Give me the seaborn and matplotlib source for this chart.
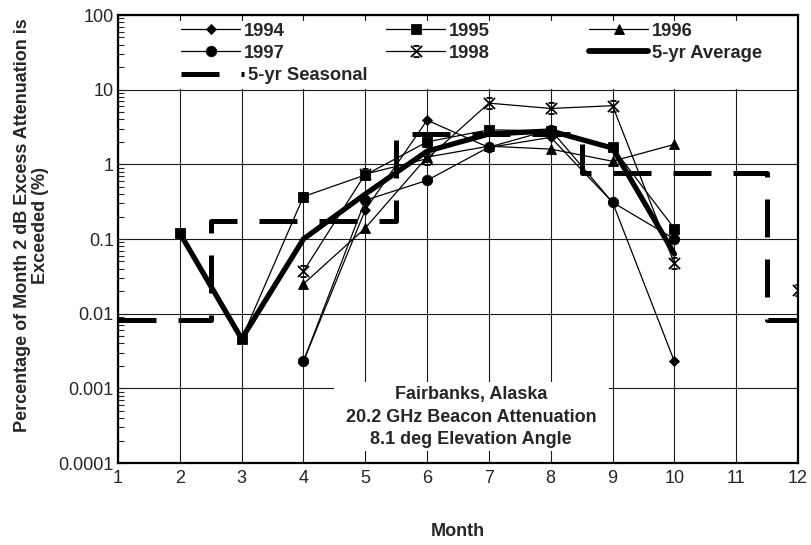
import numpy as np
import pandas as pd
import matplotlib
matplotlib.use("Agg")
import matplotlib.pyplot as plt
import seaborn as sns
from matplotlib.path import Path
from matplotlib.patches import Rectangle
from matplotlib.lines import Line2D
from matplotlib.legend import Legend
from matplotlib.ticker import LogLocator, FixedLocator, FixedFormatter, NullFormatter

# ---------------- data ----------------
months = list(range(1, 13))
nan = np.nan
v1994 = [nan, nan, nan, 0.0023, 0.245, 3.9, 1.68, 2.3, 0.31, 0.0023, nan, nan]
v1995 = [nan, 0.12, 0.0046, 0.37, 0.72, 2.0, 2.9, 2.8, 1.69, 0.138, nan, nan]
v1996 = [nan, nan, nan, 0.025, 0.14, 1.25, 1.75, 1.6, 1.1, 1.85, nan, nan]
v1997 = [nan, nan, nan, 0.0023, 0.33, 0.61, 1.7, 2.9, 0.31, 0.1, nan, nan]
v1998 = [nan, nan, nan, 0.037, 0.74, 1.19, 6.6, 5.6, 6.1, 0.047, nan, 0.021]
avg5 = [nan, 0.12, 0.0046, 0.1, 0.40, 1.5, 2.55, 2.8, 1.65, 0.063, nan, nan]
seasonal = [0.0083, 0.0083, 0.175, 0.175, 0.175, 2.55, 2.55, 2.55, 0.76, 0.76, 0.76, 0.0083]

series_labels = ["1994", "1995", "1996", "1997", "1998"]
avg_label = "5-yr Average"
seasonal_label = "5-yr Seasonal"
ytick_vals = [0.0001, 0.001, 0.01, 0.1, 1, 10, 100]
ytick_labels = ["0.0001", "0.001", "0.01", "0.1", "1", "10", "100"]
xtick_labels = [str(m) for m in months]
xlabel = "Month"
ylabel = "Percentage of Month 2 dB Excess Attenuation is\nExceeded (%)"
note_lines = ["Fairbanks, Alaska", "20.2 GHz Beacon Attenuation", "8.1 deg Elevation Angle"]

# ---------------- style ----------------
sns.set_style("white")
plt.rcParams["font.family"] = ["Liberation Sans", "DejaVu Sans"]

W, H = 811, 545
fig = plt.figure(figsize=(W / 100, H / 100), dpi=100)
L, R, T, B = 118, 798, 15, 463
ax = fig.add_axes([L / W, 1 - B / H, (R - L) / W, (B - T) / H])
ax.set_yscale("log")
ax.set_xlim(1, 12)
ax.set_ylim(1e-4, 100)

# custom marker for 1998 (x with caps)
xcap = Path([(-1, -1), (1, 1), (-1, 1), (1, -1), (-0.55, 1), (0.55, 1), (-0.55, -1), (0.55, -1)],
            [Path.MOVETO, Path.LINETO] * 4)

styles = {
    "1994": dict(marker="D", markersize=5.6),
    "1995": dict(marker="s", markersize=7.0),
    "1996": dict(marker="^", markersize=7.5),
    "1997": dict(marker="o", markersize=7.5),
    "1998": dict(marker=xcap, markersize=8.0, markerfacecolor="none", markeredgewidth=1.3),
}
thin = 0.9


def draw(vals, z, **kw):
    df = pd.DataFrame({"month": months, "value": vals}).dropna()
    df["seg"] = (df["month"].diff().fillna(1) > 1).cumsum()
    sns.lineplot(data=df, x="month", y="value", units="seg", estimator=None,
                 ax=ax, legend=False, zorder=z, **kw)


for i, (lab, vals) in enumerate(zip(series_labels, [v1994, v1995, v1996, v1997, v1998])):
    st = dict(color="black", linewidth=thin, markeredgecolor="black",
              markerfacecolor="black", markeredgewidth=0.6)
    st.update(styles[lab])
    draw(vals, 3 + i * 0.1, **st)

draw(avg5, 4, color="black", linewidth=3.8, solid_capstyle="round", solid_joinstyle="round")
seas_ls = (0, (7.6, 4.4))
draw(seasonal, 5, color="black", linewidth=3.6, drawstyle="steps-mid", linestyle=seas_ls)

# ---------------- axes cosmetics ----------------
ax.yaxis.set_major_locator(FixedLocator(ytick_vals))
ax.yaxis.set_major_formatter(FixedFormatter(ytick_labels))
ax.yaxis.set_minor_locator(LogLocator(base=10, subs=np.arange(2, 10), numticks=20))
ax.yaxis.set_minor_formatter(NullFormatter())
ax.xaxis.set_major_locator(FixedLocator(months))
ax.xaxis.set_major_formatter(FixedFormatter(xtick_labels))
ax.tick_params(axis="y", which="major", direction="in", length=6, width=0.8,
               labelsize=13, pad=3, left=True, right=False)
ax.tick_params(axis="y", which="minor", direction="in", length=4, width=0.8, left=True, right=False)
ax.tick_params(axis="x", which="major", direction="in", length=0, labelsize=13, pad=5)
ax.grid(True, which="major", color="#1a1a1a", linewidth=0.8)
ax.grid(False, which="minor")
for sp in ax.spines.values():
    sp.set_color("black")
    sp.set_linewidth(1.6)

ax.set_xlabel(xlabel, fontsize=13, fontweight="bold")
ax.xaxis.set_label_coords(0.5, -0.135)
ax.set_ylabel("")
fig.text(31.5 / W, 1 - 225 / H, ylabel, rotation=90, ha="center", va="center",
         fontsize=13, fontweight="bold", multialignment="center", linespacing=1.1)


def fx(px):
    return (px - L) / (R - L)


def fy(py):
    return (B - py) / (B - T)


# white area behind legend
ax.add_patch(Rectangle((fx(150), fy(89)), fx(797) - fx(150), fy(21) - fy(89),
                       transform=ax.transAxes, facecolor="white", edgecolor="none", zorder=1))

# white box behind annotation
ax.add_patch(Rectangle((4.5, 10 ** -3.833), 8.95 - 4.5, 10 ** -2.915 - 10 ** -3.833,
                       facecolor="white", edgecolor="none", zorder=1))
for k, (line, ly) in enumerate(zip(note_lines, [-3.085, -3.385, -3.684])):
    ax.text(6.71, 10 ** ly, line, ha="center", va="center", fontsize=13, fontweight="bold", zorder=6)

# ---------------- legend ----------------
fs = 13.2
fs_px = fs * 100 / 72
prop = dict(family=["Liberation Sans", "DejaVu Sans"], weight="bold", size=fs)


def entry(handle, label, xpx, ypx, hl_px=59, pad_px=4):
    leg = Legend(ax, [handle], [label], loc="center left",
                 bbox_to_anchor=(fx(xpx), fy(ypx)), bbox_transform=ax.transAxes,
                 frameon=False, borderpad=0, borderaxespad=0,
                 handlelength=hl_px / fs_px, handletextpad=pad_px / fs_px, prop=prop)
    leg.set_zorder(7)
    ax.add_artist(leg)


year_handles = []
for lab in series_labels:
    st = dict(color="black", linewidth=thin, markeredgecolor="black",
              markerfacecolor="black", markeredgewidth=0.6)
    st.update(styles[lab])
    year_handles.append(Line2D([], [], **st))
avg_handle = Line2D([], [], color="black", linewidth=4.2, solid_capstyle="round")
seas_handle = Line2D([], [], color="black", linewidth=3.6, linestyle=seas_ls)

row1, row2, row3 = 31, 53, 76
c1, c2, c3 = 181, 386, 589
entry(year_handles[0], series_labels[0], c1, row1)
entry(year_handles[1], series_labels[1], c2, row1)
entry(year_handles[2], series_labels[2], c3, row1)
entry(year_handles[3], series_labels[3], c1, row2)
entry(year_handles[4], series_labels[4], c2, row2)
entry(avg_handle, avg_label, c3, row2)
entry(seas_handle, seasonal_label, c1, row3, hl_px=63, pad_px=4)

fig.savefig("out.png", dpi=100)
